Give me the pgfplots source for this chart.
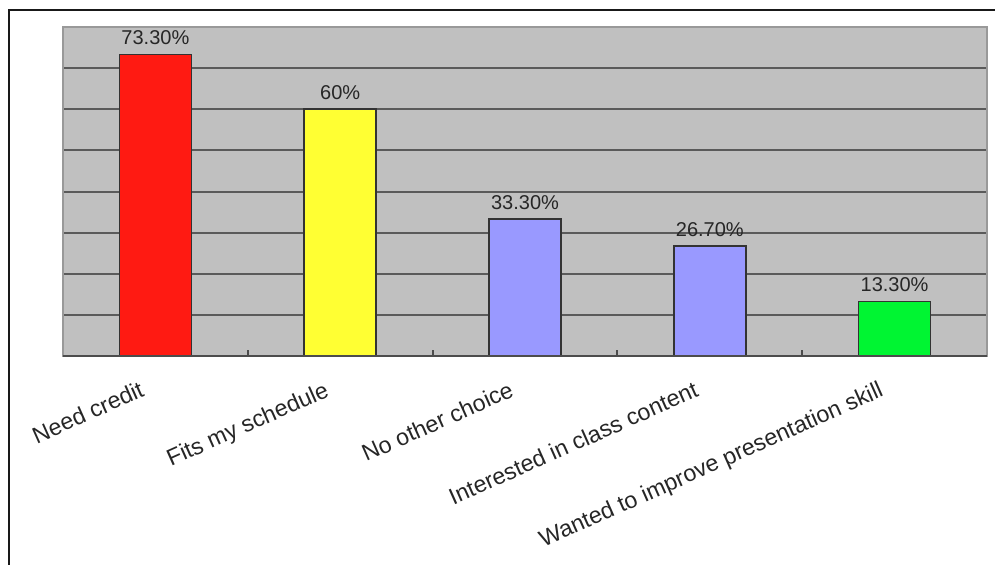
\documentclass[border=0pt]{standalone}
\usepackage{pgfplots}
\pgfplotsset{compat=1.18}
\usepackage{fontspec}
\setmainfont{Liberation Sans}
\definecolor{bgray}{HTML}{C0C0C0}
\definecolor{gline}{HTML}{5A5A5A}
\definecolor{cred}{HTML}{FF1A12}
\definecolor{cyel}{HTML}{FFFF33}
\definecolor{cblue}{HTML}{9999FF}
\definecolor{cgreen}{HTML}{00F532}
\begin{document}
\begin{tikzpicture}
\useasboundingbox (-31.5pt,-104pt) rectangle (466pt,178pt);
\begin{axis}[
  at={(0,0)}, anchor=south west,
  scale only axis, width=462pt, height=164.5pt,
  xmin=-0.5, xmax=4.5, ymin=0, ymax=80,
  axis background/.style={fill=bgray},
  axis line style={draw=black!40, line width=0.6pt},
  ytick={10,20,...,70}, yticklabels={}, ymajorgrids,
  major grid style={draw=gline, line width=1pt},
  major tick length=0pt,
  xtick pos=bottom,
  xtick={0,1,2,3,4},
  xticklabels={Need credit, Fits my schedule, No other choice, Interested in class content, Wanted to improve presentation skill},
  xticklabel style={rotate=24, anchor=north east, font=\fontsize{11.6}{13}\selectfont, text=black!85, yshift=-6.5pt, xshift=-11.5pt, inner sep=1pt},
  extra x ticks={0.5,1.5,2.5,3.5},
  extra x tick labels={},
  extra x tick style={major tick length=3pt, tick align=inside, xtick pos=bottom, tick style={draw=black!70, line width=1pt}},
  ybar, bar shift=0pt, bar width=0.39,
  every axis plot/.append style={draw=black!80, line width=0.8pt},
  nodes near coords,
  point meta=explicit symbolic,
  every node near coord/.append style={font=\fontsize{10}{12}\selectfont, text=black!85, yshift=1pt},
  clip=false,
]
\addplot[fill=cred] coordinates {(0,73.3) [73.30\%]};
\addplot[fill=cyel] coordinates {(1,60) [60\%]};
\addplot[fill=cblue] coordinates {(2,33.3) [33.30\%]};
\addplot[fill=cblue] coordinates {(3,26.7) [26.70\%]};
\addplot[fill=cgreen] coordinates {(4,13.3) [13.30\%]};
\draw[draw=black!70, line width=1.2pt] (rel axis cs:0,0) -- (rel axis cs:1,0);
\end{axis}
\draw[line width=1.1pt, black!90] (-27pt,-110pt) -- (-27pt,173pt) -- (470pt,173pt);
\end{tikzpicture}
\end{document}
